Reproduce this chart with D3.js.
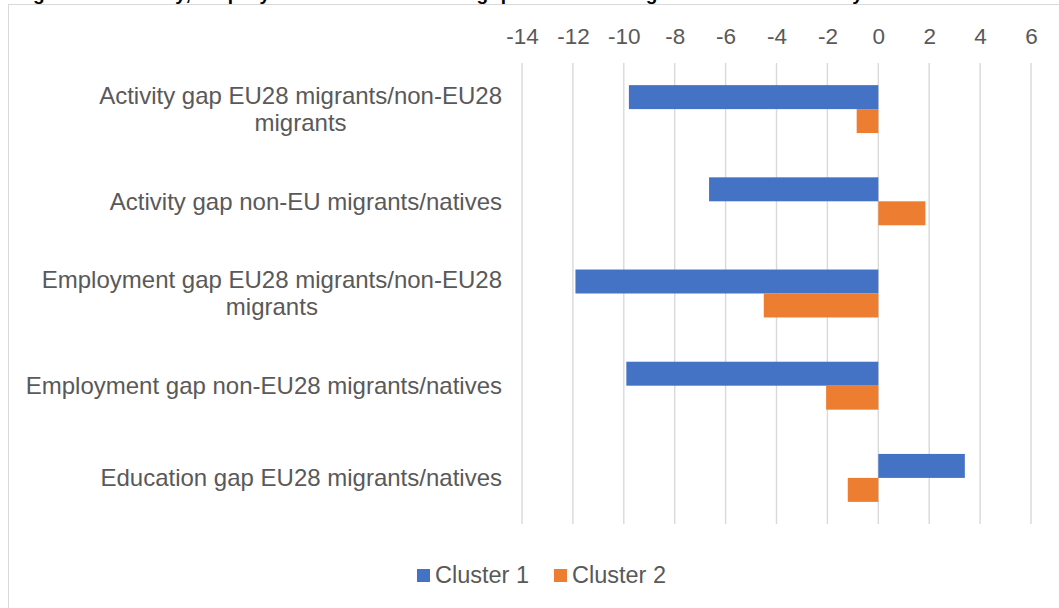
<html>
<head>
<script src="https://d3js.org/d3.v7.min.js"></script>
<style>
  body { margin: 0; background: #fff; }
  text { font-family: "Liberation Sans", Arial, sans-serif; }
</style>
</head>
<body>
<script>
  // data
  let categories = [
    ["Activity gap EU28 migrants/non-EU28", "migrants"],
    ["Activity gap non-EU migrants/natives"],
    ["Employment gap EU28 migrants/non-EU28", "migrants"],
    ["Employment gap non-EU28 migrants/natives"],
    ["Education gap EU28 migrants/natives"]
  ];
  let seriesNames = ["Cluster 1", "Cluster 2"];
  let cluster1 = [-9.8, -6.65, -11.9, -9.9, 3.4];
  let cluster2 = [-0.85, 1.85, -4.5, -2.05, -1.2];
  let tickValues = [-14, -12, -10, -8, -6, -4, -2, 0, 2, 4, 6];
  let colors = ["#4472C4", "#ED7D31"];

  let width = 1059, height = 608;
  let textColor = "#595959";

  let svg = d3.select("body").append("svg")
      .attr("width", width)
      .attr("height", height);

  // outer chart frame (runs off the right and bottom)
  svg.append("rect")
    .attr("x", 8.5).attr("y", 4.5)
    .attr("width", width + 10).attr("height", height + 10)
    .attr("fill", "none")
    .attr("stroke", "#D9D9D9");

  // title line, clipped by the top of the picture as in the original
  svg.append("text")
    .attr("x", 14)
    .attr("y", -0.5)
    .attr("font-size", 19)
    .attr("font-weight", "bold")
    .attr("fill", "#000")
    .attr("textLength", 925)
    .text("Figure 3: Activity, employment and education gaps between migrants and natives by cluster");

  let keys = categories.map((c, i) => i);

  let x = d3.scaleLinear()
      .domain([-14, 6])
      .range([522, 1031]);

  let y = d3.scaleBand()
      .domain(keys)
      .range([63, 524])
      .paddingInner(0.48)
      .paddingOuter(0.24);

  let ySub = d3.scaleBand()
      .domain([0, 1])
      .range([0, y.bandwidth()]);

  // vertical gridlines
  svg.append("g")
    .selectAll("line")
    .data(tickValues)
    .join("line")
      .attr("x1", d => x(d)).attr("x2", d => x(d))
      .attr("y1", 63).attr("y2", 524)
      .attr("stroke", "#D9D9D9")
      .attr("stroke-width", 1.4);

  // top tick labels
  let axis = svg.append("g")
      .attr("transform", "translate(0,44)")
      .call(d3.axisTop(x).tickValues(tickValues).tickSize(0).tickPadding(0)
        .tickFormat(d => d < 0 ? "-" + Math.abs(d) : d));
  axis.select(".domain").remove();
  axis.selectAll("text")
      .attr("font-family", "Liberation Sans, Arial, sans-serif")
      .attr("font-size", 22.5)
      .attr("fill", textColor)
      .attr("dy", 0);

  // bars
  let series = [cluster1, cluster2];
  series.forEach((vals, s) => {
    svg.append("g")
      .selectAll("rect")
      .data(vals)
      .join("rect")
        .attr("x", d => x(Math.min(0, d)))
        .attr("width", d => Math.abs(x(d) - x(0)))
        .attr("y", (d, i) => y(i) + ySub(s))
        .attr("height", ySub.bandwidth())
        .attr("fill", colors[s]);
  });

  // category labels, wrapped lines centred on the widest line
  let labelRight = 502;
  categories.forEach((lines, i) => {
    let g = svg.append("g");
    let lineH = 27;
    let cy = y(i) + y.bandwidth() / 2;
    let top = cy - (lines.length - 1) * lineH / 2;
    let texts = lines.map((l, k) =>
      g.append("text")
        .attr("y", top + k * lineH)
        .attr("dy", "0.35em")
        .attr("font-size", 24)
        .attr("fill", textColor)
        .attr("text-anchor", "middle")
        .text(l));
    let maxW = d3.max(texts, t => t.node().getComputedTextLength());
    texts.forEach(t => t.attr("x", labelRight - maxW / 2));
  });

  // legend
  let legendX = [417, 554];
  seriesNames.forEach((name, s) => {
    svg.append("rect")
      .attr("x", legendX[s]).attr("y", 569)
      .attr("width", 13).attr("height", 13)
      .attr("fill", colors[s]);
    svg.append("text")
      .attr("x", legendX[s] + 18)
      .attr("y", 583)
      .attr("font-size", 23.5)
      .attr("fill", textColor)
      .text(name);
  });
</script>
</body>
</html>
